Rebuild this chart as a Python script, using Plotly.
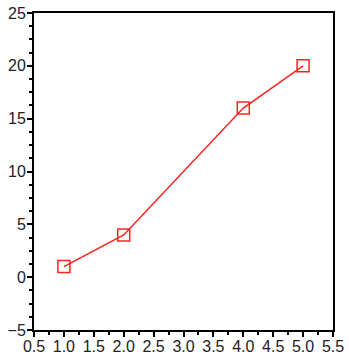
import plotly.graph_objects as go

x_vals = [1, 2, 4, 5]
y_vals = [1, 4, 16, 20]

fig = go.Figure()
fig.add_trace(go.Scatter(
    x=x_vals, y=y_vals, mode="lines+markers",
    line=dict(color="#ff2020", width=1.5),
    marker=dict(symbol="square-open", size=12, color="#ff2020", line=dict(width=1.5, color="#ff2020")),
    showlegend=False,
))

axis_common = dict(
    showgrid=False, zeroline=False, showline=True, linecolor="black", linewidth=2,
    mirror=True, ticks="outside", ticklen=5, tickwidth=1.5, tickcolor="black",
    tickfont=dict(family="Liberation Sans", size=16, color="#222222"),
    automargin=False,
)

fig.update_xaxes(range=[0.5, 5.5], tick0=0.5, dtick=0.5, tickformat=".1f",
                 ticklabelstandoff=-4,
                 minor=dict(dtick=0.25, tick0=0.5, ticks="outside", ticklen=3, tickcolor="black"),
                 **axis_common)
fig.update_yaxes(range=[-5, 25], tick0=-5, dtick=5,
                 ticklabelstandoff=-2,
                 minor=dict(dtick=1.25, tick0=-5, ticks="outside", ticklen=3, tickcolor="black"),
                 **axis_common)

fig.update_layout(
    width=349, height=355,
    margin=dict(l=34, r=16, t=13, b=25),
    paper_bgcolor="white", plot_bgcolor="white",
)

fig.write_html("out.html")
